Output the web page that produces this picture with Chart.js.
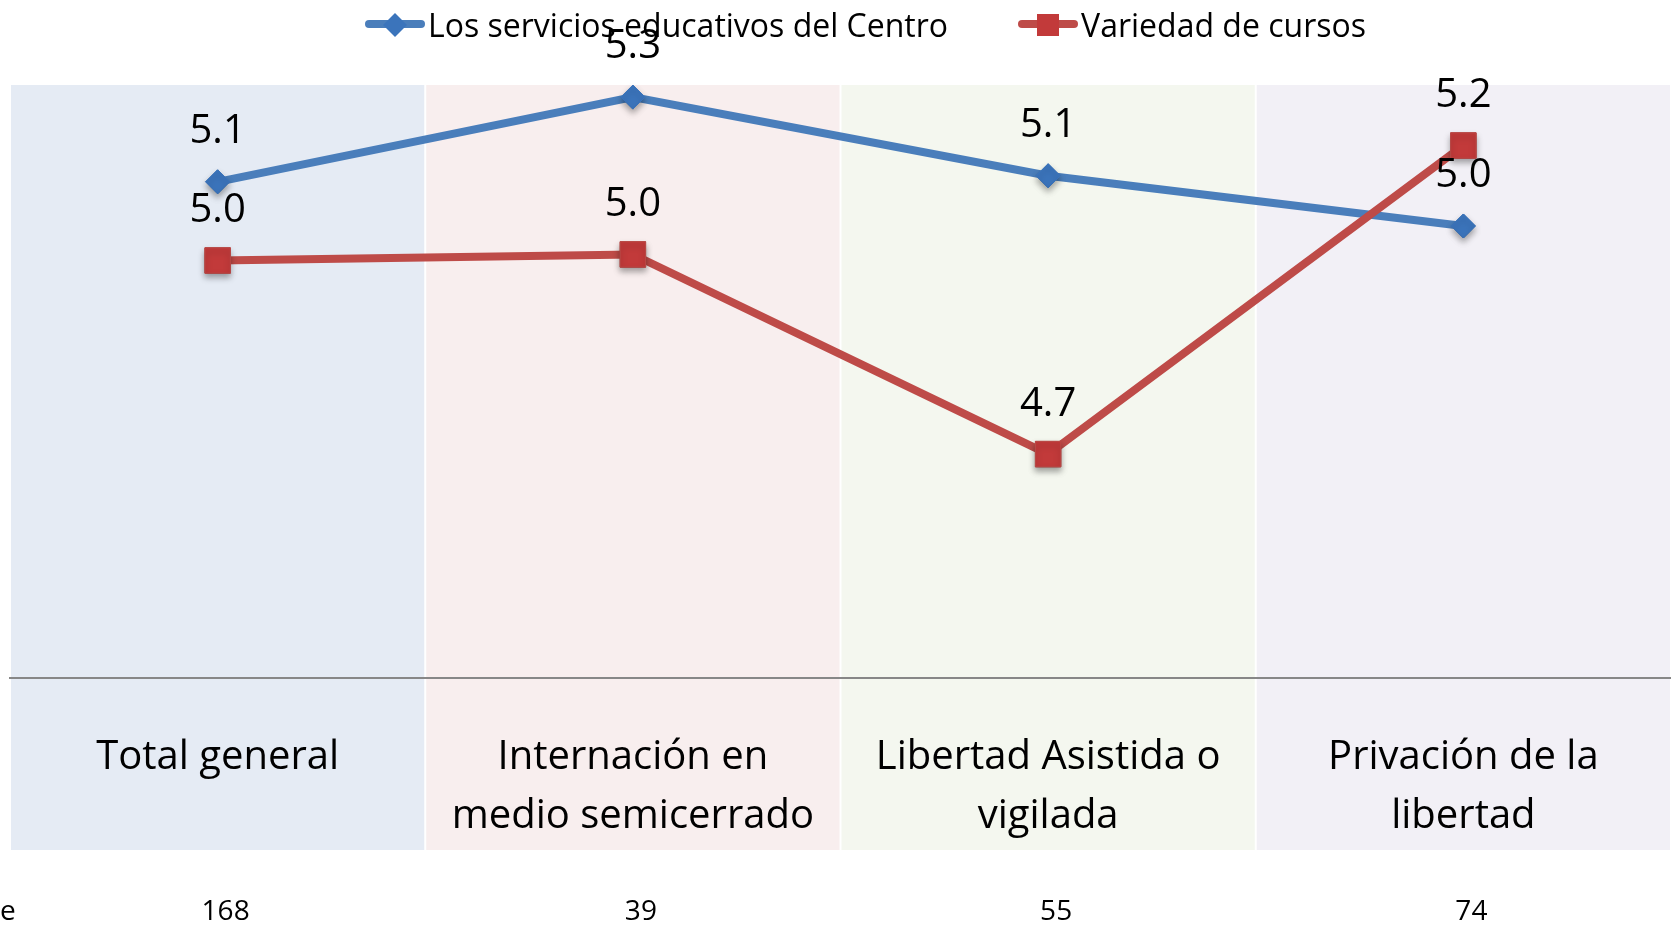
<!DOCTYPE html>
<html>
<head>
<meta charset="utf-8">
<script src="https://cdn.jsdelivr.net/npm/chart.js@4.4.1/dist/chart.umd.min.js"></script>
<style>
    html, body { margin: 0; padding: 0; background: #fff; }
    #wrap { position: relative; width: 1671px; height: 925px; overflow: hidden; }
    #legend {
        position: absolute; top: 6px; left: 365px;
        display: flex; align-items: center;
        font-family: 'Open Sans', sans-serif; font-size: 32px; color: #000;
        white-space: nowrap; line-height: 38px;
    }
    .item { display: flex; align-items: center; margin-right: 70px; }
    .item canvas { margin-right: 3px; }
</style>
</head>
<body>
<div id="wrap">
    <canvas id="chart" width="1671" height="925"></canvas>
    <div id="legend"></div>
</div>
<script>
    // Data
    const categories = [
        ['Total general'],
        ['Internación en', 'medio semicerrado'],
        ['Libertad Asistida o', 'vigilada'],
        ['Privación de la', 'libertad']
    ];
    const serviciosValues = [5.12, 5.26, 5.13, 5.047];
    const cursosValues = [4.99, 5.00, 4.67, 5.18];
    const respondentCounts = ['168', '39', '55', '74'];
    const countsRowLabel = 'e';
    const yMin = 4.3;
    const yMax = 5.28;

    const bandColors = ['#e5ebf4', '#f8eeee', '#f4f7ef', '#f2f0f6'];
    const fontFamily = "'Open Sans', sans-serif";

    // Legend icons (line + marker)
    function legendIcon(lineColor, fillColor, shape) {
        const c = document.createElement('canvas');
        c.width = 60; c.height = 26;
        const g = c.getContext('2d');
        g.strokeStyle = lineColor;
        g.lineWidth = 8;
        g.lineCap = 'round';
        g.beginPath(); g.moveTo(4, 12); g.lineTo(56, 12); g.stroke();
        g.fillStyle = fillColor;
        if (shape === 'diamond') {
            g.beginPath();
            g.moveTo(30, 1); g.lineTo(42, 13); g.lineTo(30, 25); g.lineTo(18, 13);
            g.closePath(); g.fill();
        } else {
            g.fillRect(19, 2, 22, 22);
        }
        return c;
    }

    // Category bands behind the plot
    const bandsPlugin = {
        id: 'bands',
        beforeDraw(chart) {
            const {ctx, chartArea, scales: {x}} = chart;
            const half = (x.getPixelForValue(1) - x.getPixelForValue(0)) / 2;
            ctx.save();
            categories.forEach((c, i) => {
                const xc = x.getPixelForValue(i);
                ctx.fillStyle = bandColors[i];
                ctx.fillRect(xc - half + 1, chartArea.top, half * 2 - 2, chartArea.bottom - chartArea.top + 172);
            });
            ctx.restore();
        }
    };

    // Marker shadows + value labels
    const labelsPlugin = {
        id: 'valueLabels',
        afterDatasetsDraw(chart) {
            const ctx = chart.ctx;
            ctx.save();
            ctx.shadowColor = 'rgba(0,0,0,0.35)';
            ctx.shadowBlur = 6;
            ctx.shadowOffsetY = 4;
            chart.data.datasets.forEach((ds, di) => {
                chart.getDatasetMeta(di).data.forEach(pt => pt.draw(ctx, chart.chartArea));
            });
            ctx.restore();

            ctx.save();
            ctx.font = '40px ' + fontFamily;
            ctx.fillStyle = '#000';
            ctx.textAlign = 'center';
            ctx.textBaseline = 'middle';
            chart.data.datasets.forEach((ds, di) => {
                chart.getDatasetMeta(di).data.forEach((pt, i) => {
                    ctx.fillText(ds.data[i].toFixed(1), pt.x, pt.y - 50);
                });
            });
            ctx.restore();
        },
        afterDraw(chart) {
            const {ctx, scales: {x}} = chart;
            ctx.save();
            ctx.font = '28px ' + fontFamily;
            ctx.fillStyle = '#000';
            ctx.textBaseline = 'alphabetic';
            ctx.textAlign = 'left';
            ctx.fillText(countsRowLabel, 0, 920);
            ctx.textAlign = 'center';
            respondentCounts.forEach((n, i) => {
                ctx.fillText(n, x.getPixelForValue(i) + 8, 920);
            });
            ctx.restore();
        }
    };

    const chart = new Chart(document.getElementById('chart'), {
        type: 'line',
        data: {
            labels: categories,
            datasets: [
                {
                    label: 'Los servicios educativos del Centro',
                    data: serviciosValues,
                    borderColor: '#4a7ebb',
                    borderWidth: 8,
                    pointStyle: 'rectRot',
                    pointRadius: 12,
                    pointBackgroundColor: '#3b74bb',
                    pointBorderColor: '#3b74bb',
                    pointBorderWidth: 1,
                    tension: 0,
                    order: 1
                },
                {
                    label: 'Variedad de cursos',
                    data: cursosValues,
                    borderColor: '#be4b48',
                    borderWidth: 8,
                    pointStyle: 'rect',
                    pointRadius: 18,
                    pointBackgroundColor: '#c23a3a',
                    pointBorderColor: '#b94a47',
                    pointBorderWidth: 1,
                    tension: 0,
                    order: 0
                }
            ]
        },
        options: {
            responsive: false,
            animation: false,
            layout: { autoPadding: false, padding: { left: 10, right: 0, top: 85, bottom: 0 } },
            scales: {
                x: {
                    offset: true,
                    grid: { display: false, drawTicks: false },
                    border: { display: true, color: '#878787', width: 2 },
                    ticks: {
                        autoSkip: false,
                        maxRotation: 0,
                        padding: 50,
                        color: '#000',
                        font: { family: fontFamily, size: 40, lineHeight: 1.47 }
                    },
                    afterFit: s => {
                        s.height = 247;
                        s.paddingLeft = 0;
                        s.paddingRight = 0;
                    }
                },
                y: {
                    display: false,
                    min: yMin,
                    max: yMax
                }
            },
            plugins: {
                legend: { display: false },
                tooltip: { enabled: false }
            }
        },
        plugins: [bandsPlugin, labelsPlugin]
    });

    // HTML legend
    const legendEl = document.getElementById('legend');
    const icons = [
        legendIcon('#4a7ebb', '#3b74bb', 'diamond'),
        legendIcon('#be4b48', '#c23a3a', 'square')
    ];
    chart.data.datasets.forEach((ds, i) => {
        const item = document.createElement('div');
        item.className = 'item';
        item.appendChild(icons[i]);
        const span = document.createElement('span');
        span.textContent = ds.label;
        item.appendChild(span);
        legendEl.appendChild(item);
    });
</script>
</body>
</html>
